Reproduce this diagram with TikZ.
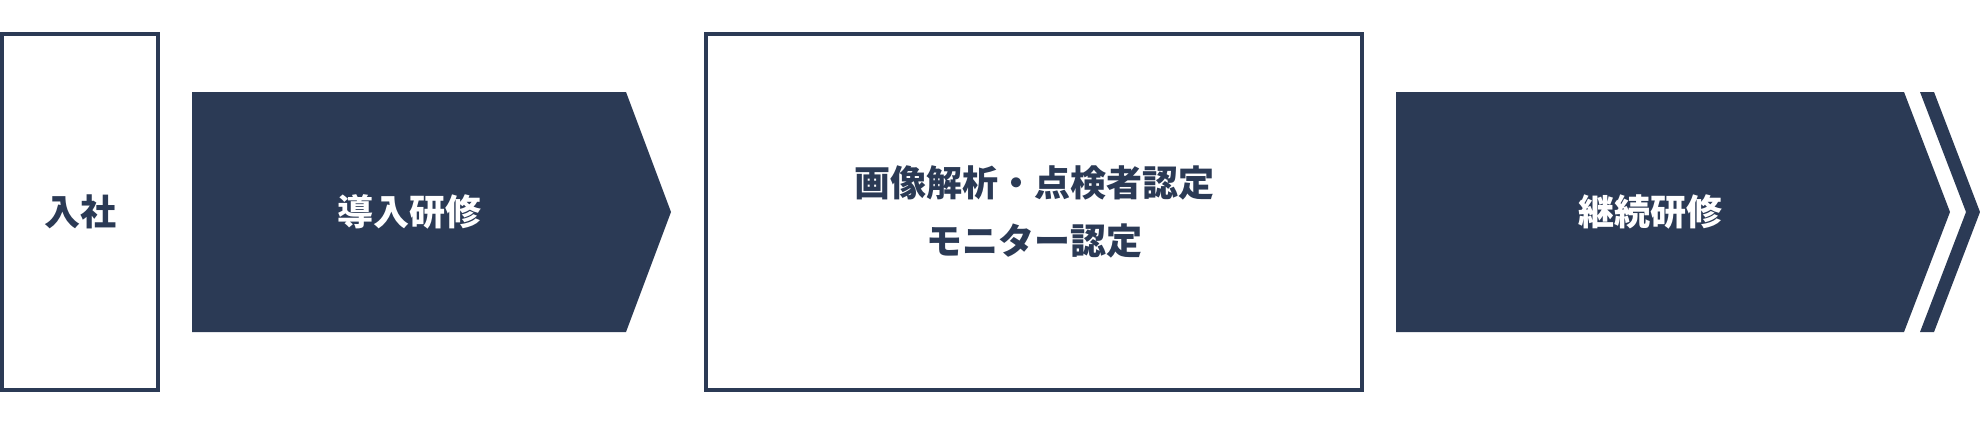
\documentclass[tikz,border=0pt]{standalone}
\usepackage{fontspec}
\setmainfont{Noto Sans CJK JP}
\usepackage{tikz}
\usetikzlibrary{positioning}
\definecolor{navy}{HTML}{2B3A55}

\begin{document}
\begin{tikzpicture}[x=1pt, y=-1pt,
node distance = 544pt,
box/.style={rectangle, draw=navy, line width=4pt, fill=white, inner sep=0pt, minimum height=356pt},
course/.style={fill=navy},
dark/.style={text=navy, font=\fontsize{36}{58}\selectfont\bfseries, align=center},
light/.style={text=white, font=\fontsize{36}{58}\selectfont\bfseries, align=center}]

\useasboundingbox (0,0) rectangle (1980,424);

\node[box, dark, minimum width=156pt] (join) at (80,212) {入社};
\node[box, dark, minimum width=656pt] (cert) [right = of join] {画像解析・点検者認定\\モニター認定};

\fill[course] (192,92) -- (626,92) -- (671,212) -- (626,332) -- (192,332) -- cycle;
\fill[course] (1396,92) -- (1904,92) -- (1950,212) -- (1904,332) -- (1396,332) -- cycle;
\fill[course] (1920,92) -- (1934,92) -- (1980,212) -- (1934,332) -- (1920,332) -- (1966,212) -- cycle;

\node[light] (intro) at (409,212) {導入研修};
\node[light] (cont) at (1650,212) {継続研修};
\end{tikzpicture}
\end{document}
